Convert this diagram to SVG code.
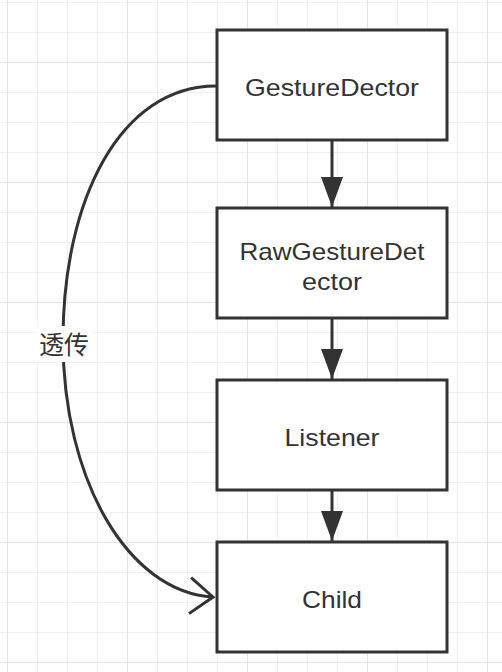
<svg xmlns="http://www.w3.org/2000/svg" width="502" height="672" viewBox="0 0 502 672">
<defs>
<pattern id="minor" width="30" height="30" patternUnits="userSpaceOnUse" x="7" y="2">
<path d="M0.5 0V30M0 0.5H30" fill="none" stroke="#f0f0f0" stroke-width="1"/>
</pattern>
<pattern id="major" width="120" height="120" patternUnits="userSpaceOnUse" x="7" y="62">
<path d="M0.5 0V120M0 0.5H120" fill="none" stroke="#e4e4e4" stroke-width="1"/>
</pattern>
<marker id="solid" markerUnits="userSpaceOnUse" markerWidth="32" markerHeight="24" viewBox="-31 -12 32 24" refX="0" refY="0" orient="auto">
<path d="M-30,-11 L0,0 L-30,11 Z" fill="#333333"/>
</marker>
<marker id="open" markerUnits="userSpaceOnUse" markerWidth="30" markerHeight="40" viewBox="-27 -20 30 40" refX="0" refY="0" orient="auto">
<path d="M-23,-18 L0,0 L-23,18" fill="none" stroke="#333333" stroke-width="3"/>
</marker>
</defs>
<style>
.node rect{fill:#ffffff;stroke:#333333;stroke-width:3}
.node text{font-family:"Liberation Sans","Noto Sans CJK SC",sans-serif;font-size:24px;fill:#333333;text-anchor:middle}
.edge{fill:none;stroke:#333333;stroke-width:3}
.lbl{font-family:"Noto Sans CJK SC","Liberation Sans",sans-serif;font-size:25px;fill:#333333;text-anchor:middle}
</style>
<rect width="502" height="672" fill="#ffffff"/>
<rect width="502" height="672" fill="url(#minor)"/>
<rect width="502" height="672" fill="url(#major)"/>
<g id="connectors">
<path class="edge" d="M332,141 V207" marker-end="url(#solid)"/>
<path class="edge" d="M332,318 V379" marker-end="url(#solid)"/>
<path class="edge" d="M332,490 V541" marker-end="url(#solid)"/>
<path class="edge" d="M216,86 C120,86 63,200 63,340 C63,480 128,592 213,597" marker-end="url(#open)"/>
<rect x="37" y="326" width="55" height="36" fill="#ffffff"/>
<text class="lbl" x="64" y="354">透传</text>
</g>
<g id="node-gesturedector" class="node">
<rect x="217" y="30" width="230" height="110"/>
<text x="332" y="96" textLength="174" lengthAdjust="spacingAndGlyphs">GestureDector</text>
</g>
<g id="node-rawgesturedetector" class="node">
<rect x="217" y="208" width="230" height="110"/>
<text x="332" y="260" textLength="185" lengthAdjust="spacingAndGlyphs">RawGestureDet</text>
<text x="332" y="290" textLength="60" lengthAdjust="spacingAndGlyphs">ector</text>
</g>
<g id="node-listener" class="node">
<rect x="217" y="380" width="230" height="110"/>
<text x="332" y="446" textLength="95" lengthAdjust="spacingAndGlyphs">Listener</text>
</g>
<g id="node-child" class="node">
<rect x="217" y="542" width="230" height="110"/>
<text x="332" y="608" textLength="60" lengthAdjust="spacingAndGlyphs">Child</text>
</g>
</svg>
